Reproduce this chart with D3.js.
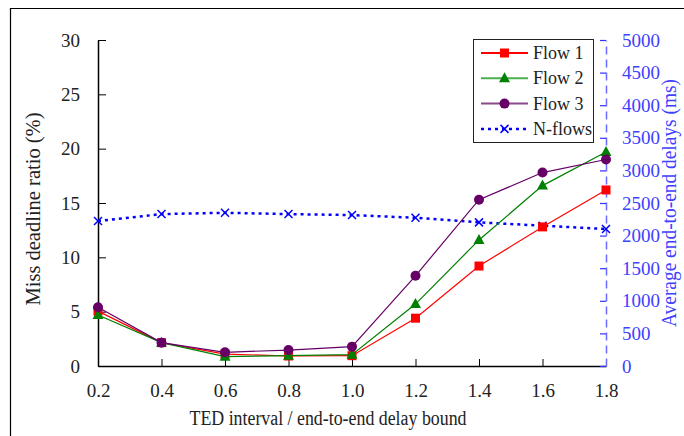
<!DOCTYPE html>
<html>
<head>
<meta charset="utf-8">
<script src="https://cdn.jsdelivr.net/npm/d3@7"></script>
<style>
  html, body { margin: 0; padding: 0; background: #fff; }
  svg { display: block; }
</style>
</head>
<body>
<svg id="chart" width="684" height="436"></svg>
<script>
// x: TED interval relative to the end-to-end delay bound
const xValues = [0.2, 0.4, 0.6, 0.8, 1.0, 1.2, 1.4, 1.6, 1.8];

// Miss deadline ratio (%) per flow
const flow1 = [5.05, 2.15, 1.1, 0.92, 0.95, 4.4, 9.2, 12.8, 16.2];
const flow2 = [4.7, 2.15, 0.86, 0.95, 1.04, 5.7, 11.6, 16.6, 19.7];
const flow3 = [5.4, 2.15, 1.26, 1.47, 1.78, 8.3, 15.3, 17.8, 19.0];

// Average end-to-end delay (ms) for N flows
const nFlows = [2223, 2330, 2350, 2330, 2315, 2273, 2203, 2152, 2100];

const xTicks = [0.2, 0.4, 0.6, 0.8, 1.0, 1.2, 1.4, 1.6, 1.8];
const leftTicks = [0, 5, 10, 15, 20, 25, 30];
const rightTicks = [0, 500, 1000, 1500, 2000, 2500, 3000, 3500, 4000, 4500, 5000];

const FONT = "Liberation Serif";
const svg = d3.select("#chart");

// outer frame (left and top edges)
svg.append("path")
  .attr("d", "M10.5,436 V8.5 H684")
  .attr("fill", "none").attr("stroke", "#000").attr("stroke-width", 1.2);

const x = d3.scaleLinear().domain([0.2, 1.8]).range([98, 606]);
const yL = d3.scaleLinear().domain([0, 30]).range([366, 40]);
const yR = d3.scaleLinear().domain([0, 5000]).range([366, 40]);

const fontSize = 19;
const blue = "#4040ff";

// bottom axis
const gx = svg.append("g").attr("transform", `translate(0,${yL(0)})`)
  .call(d3.axisBottom(x).tickValues(xTicks).tickFormat(d3.format(".1f"))
    .tickSize(-7).tickSizeOuter(0).tickPadding(18));
gx.select(".domain").attr("stroke", "#000").attr("stroke-width", 1.5);
gx.selectAll(".tick line").attr("stroke", "#000");
gx.selectAll("text").attr("font-size", fontSize).attr("font-family", FONT).attr("fill", "#222");

// left axis
const gl = svg.append("g").attr("transform", `translate(${x(0.2)},0)`)
  .call(d3.axisLeft(yL).tickValues(leftTicks).tickFormat(d3.format("d"))
    .tickSize(-8).tickSizeOuter(0).tickPadding(18));
gl.select(".domain").attr("stroke", "#000").attr("stroke-width", 1.5);
gl.selectAll(".tick line").attr("stroke", "#000");
gl.selectAll("text").attr("font-size", fontSize).attr("font-family", FONT).attr("fill", "#222");

// right axis (dashed, blue)
const gr = svg.append("g").attr("transform", `translate(${x(1.8)},0)`)
  .call(d3.axisRight(yR).tickValues(rightTicks).tickFormat(d3.format("d"))
    .tickSize(-6).tickSizeOuter(0).tickPadding(16));
gr.select(".domain").attr("stroke", "#6a6aff").attr("stroke-width", 1.5).attr("stroke-dasharray", "8,5");
gr.selectAll(".tick line").attr("stroke", "#3030ff").attr("stroke-width", 1.2);
gr.selectAll("text").attr("font-size", fontSize).attr("font-family", FONT).attr("fill", blue);

// axis titles
svg.append("text")
  .attr("transform", `translate(33,209) rotate(-90)`)
  .attr("text-anchor", "middle").attr("dominant-baseline", "central")
  .attr("font-family", FONT).attr("font-size", 20.5).attr("fill", "#222")
  .text("Miss deadline ratio (%)");

svg.append("text")
  .attr("x", 328).attr("y", 425)
  .attr("text-anchor", "middle")
  .attr("font-family", FONT).attr("font-size", 20).attr("fill", "#222")
  .attr("textLength", 277).attr("lengthAdjust", "spacingAndGlyphs")
  .text("TED interval / end-to-end delay bound");

svg.append("text")
  .attr("transform", `translate(669,${(yR(0) + yR(5000)) / 2}) rotate(-90)`)
  .attr("text-anchor", "middle").attr("dominant-baseline", "central")
  .attr("font-family", FONT).attr("font-size", 20).attr("fill", blue)
  .attr("textLength", 248).attr("lengthAdjust", "spacingAndGlyphs")
  .text("Average end-to-end delays (ms)");

// series definitions
const series = [
  { name: "Flow 1", values: flow1, scale: yL, color: "#ff0000", marker: "square", width: 1.2, dash: null },
  { name: "Flow 2", values: flow2, scale: yL, color: "#008000", marker: "triangle", width: 1.2, dash: null },
  { name: "Flow 3", values: flow3, scale: yL, color: "#660066", marker: "circle", width: 1.2, dash: null },
  { name: "N-flows", values: nFlows, scale: yR, color: "#0000ff", marker: "cross", width: 2.5, dash: "3,4" }
];

function drawMarker(g, type, color, cx, cy) {
  if (type === "square") {
    g.append("rect").attr("x", cx - 4.5).attr("y", cy - 4.5).attr("width", 9).attr("height", 9).attr("fill", color);
  } else if (type === "triangle") {
    g.append("path").attr("d", `M${cx},${cy - 6} L${cx + 5.5},${cy + 4} L${cx - 5.5},${cy + 4} Z`).attr("fill", color);
  } else if (type === "circle") {
    g.append("circle").attr("cx", cx).attr("cy", cy).attr("r", 5).attr("fill", color);
  } else if (type === "cross") {
    g.append("path").attr("d", `M${cx - 4},${cy - 4} L${cx + 4},${cy + 4} M${cx - 4},${cy + 4} L${cx + 4},${cy - 4}`)
      .attr("stroke", color).attr("stroke-width", 1.5).attr("fill", "none");
  }
}

// N-flows first so the flow lines sit on top
const drawOrder = [series[3], series[0], series[1], series[2]];
drawOrder.forEach(s => {
  const line = d3.line().x((d, i) => x(xValues[i])).y(d => s.scale(d));
  const g = svg.append("g");
  g.append("path").datum(s.values).attr("d", line)
    .attr("fill", "none").attr("stroke", s.color).attr("stroke-width", s.width)
    .attr("stroke-dasharray", s.dash);
  s.values.forEach((v, i) => drawMarker(g, s.marker, s.color, x(xValues[i]), s.scale(v)));
});

// legend
const lg = svg.append("g");
lg.append("rect").attr("x", 473.5).attr("y", 39.5).attr("width", 120).attr("height", 103)
  .attr("fill", "#fff").attr("stroke", "#222").attr("stroke-width", 1);
const legendColors = ["#ff0000", "#4caf50", "#8a4a8a", "#0000ff"];
series.forEach((s, i) => {
  const cy = 53 + i * 25.3;
  lg.append("line").attr("x1", 481).attr("x2", 528).attr("y1", cy).attr("y2", cy)
    .attr("stroke", s.dash ? s.color : legendColors[i]).attr("stroke-width", s.dash ? 2.5 : 2)
    .attr("stroke-dasharray", s.dash);
  drawMarker(lg, s.marker, s.color, 504.5, cy);
  lg.append("text").attr("x", 533).attr("y", cy).attr("dominant-baseline", "central")
    .attr("font-family", FONT).attr("font-size", 18).attr("fill", "#222").text(s.name);
});
</script>
</body>
</html>
